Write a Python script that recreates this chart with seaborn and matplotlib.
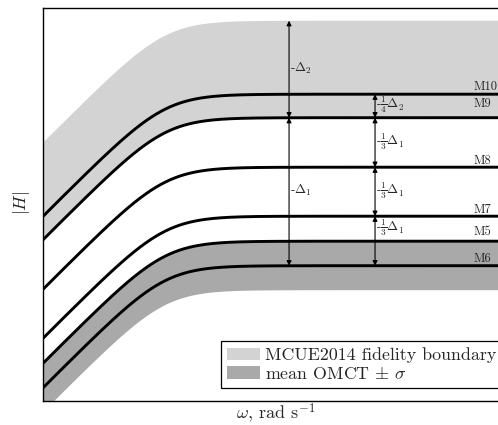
import numpy as np
import pandas as pd
import matplotlib
matplotlib.use("Agg")
import matplotlib.pyplot as plt
from matplotlib.patches import Patch
import seaborn as sns

# ---- data -----------------------------------------------------------------
# High-frequency gain (dB) of each model's first-order high-pass magnitude
models = ["M10", "M9", "M8", "M7", "M5", "M6"]
plateau_db = [34.3, 29.6, 19.7, 9.9, 4.9, 0.0]

fidelity_upper_db = 49.0      # upper edge of the MCUE2014 fidelity boundary
fidelity_lower_model = "M9"   # lower edge follows M9
omct_mean_model = "M6"        # mean OMCT response
omct_sigma_db = 4.9           # +/- sigma around the mean OMCT
corner_omega = 1.0            # rad/s

# dimension arrows: (label, from, to)
delta_left = [(r"$\Delta_2$", "upper", "M9"), (r"$\Delta_1$", "M9", "M6")]
delta_right = [(r"$\frac{1}{4}\Delta_2$", "M10", "M9"),
               (r"$\frac{1}{3}\Delta_1$", "M9", "M8"),
               (r"$\frac{1}{3}\Delta_1$", "M8", "M7"),
               (r"$\frac{1}{3}\Delta_1$", "M7", "M6")]

legend_labels = ["MCUE2014 fidelity boundary", r"mean OMCT $\pm$ $\sigma$"]

# ---- style ----------------------------------------------------------------
sns.set_theme(style="white")
plt.rcParams["font.family"] = ["cmr10", "DejaVu Serif"]
plt.rcParams["mathtext.fontset"] = "cm"
plt.rcParams["axes.unicode_minus"] = False
plt.rcParams["axes.formatter.use_mathtext"] = True

light = "#d3d3d3"
dark = "#a9a9a9"

omega = np.logspace(-1.6, 3.7, 800)


def response_db(gain_db):
    return gain_db - 10 * np.log10(1 + (corner_omega / omega) ** 2)


level = dict(zip(models, plateau_db))
level["upper"] = fidelity_upper_db

curves = pd.DataFrame({
    "omega": np.tile(omega, len(models)),
    "H": np.concatenate([response_db(g) for g in plateau_db]),
    "model": np.repeat(models, len(omega)),
})

fig = plt.figure(figsize=(4.98, 4.25), dpi=100)
W, H = 498, 425
ax = fig.add_axes([43 / W, 1 - 401 / H, (510 - 43) / W, (401 - 8) / H])
ax.set_xscale("log")

# shaded bands
ax.fill_between(omega, response_db(level[fidelity_lower_model]),
                response_db(fidelity_upper_db), color=light, lw=0, zorder=1)
m6 = response_db(level[omct_mean_model])
ax.fill_between(omega, m6 - omct_sigma_db, m6 + omct_sigma_db,
                color=dark, lw=0, zorder=1)

# model responses
sns.lineplot(data=curves, x="omega", y="H", units="model", estimator=None,
             color="black", lw=2.1, ax=ax, zorder=3, legend=False)

ax.set_xlim(10 ** -1.22, 10 ** 3.45)
ax.set_ylim(-27.06, 51.54)
ax.set_xticks([])
ax.set_yticks([])
ax.minorticks_off()
ax.set_xlabel("")
ax.set_ylabel("")
for s in ax.spines.values():
    s.set_color("black")
    s.set_linewidth(1.0)

# model labels
label_omega = 1230
label_offsets = {"M10": 4, "M9": 11, "M8": 3.5, "M7": 3.5, "M5": 6.5, "M6": 4}
for m in models:
    ax.annotate(m, xy=(label_omega, level[m]), xytext=(0, label_offsets[m]),
                textcoords="offset pixels", ha="left", va="baseline",
                fontsize=9.0, zorder=5, annotation_clip=False)

# dimension arrows
arrow_kw = dict(arrowstyle="<|-|>", color="black", lw=0.8,
                mutation_scale=7, shrinkA=0, shrinkB=0)


def dim_arrow(x, label, a, b, label_y=None):
    ya, yb = level[a], level[b]
    ax.annotate("", xy=(x, ya), xytext=(x, yb), arrowprops=arrow_kw, zorder=4)
    ym = (ya + yb) / 2 if label_y is None else label_y
    ax.annotate("-" + label, xy=(x, ym), xytext=(1, 1),
                textcoords="offset pixels", ha="left", va="center",
                fontsize=9.5, zorder=5)


for lab, a, b in delta_left:
    dim_arrow(17.4, lab, a, b)
for lab, a, b in delta_right:
    ly = None
    if (a, b) == ("M7", "M6"):
        ly = (level["M7"] + level["M5"]) / 2
    dim_arrow(126, lab, a, b, ly)

# legend
handles = [Patch(facecolor=light, edgecolor="none"),
           Patch(facecolor=dark, edgecolor="none")]
leg = fig.legend(handles, legend_labels, loc="lower left",
                 bbox_to_anchor=(221 / W, 1 - 388 / H),
                 bbox_transform=fig.transFigure, borderaxespad=0,
                 fontsize=12.9, frameon=True, fancybox=False, framealpha=1,
                 edgecolor="black", handlelength=1.8, handleheight=0.7,
                 handletextpad=0.3, labelspacing=0.15, borderpad=0.35)
leg.get_frame().set_linewidth(0.9)

# axis labels
fig.text(22 / W, 1 - 203 / H, r"$|H|$", rotation=90, ha="center",
         va="center", fontsize=12.5)
fig.text(276 / W, 1 - 419 / H, r"$\omega$, rad s$^{-1}$", ha="center",
         va="baseline", fontsize=13)

fig.savefig("out.png", dpi=100)
